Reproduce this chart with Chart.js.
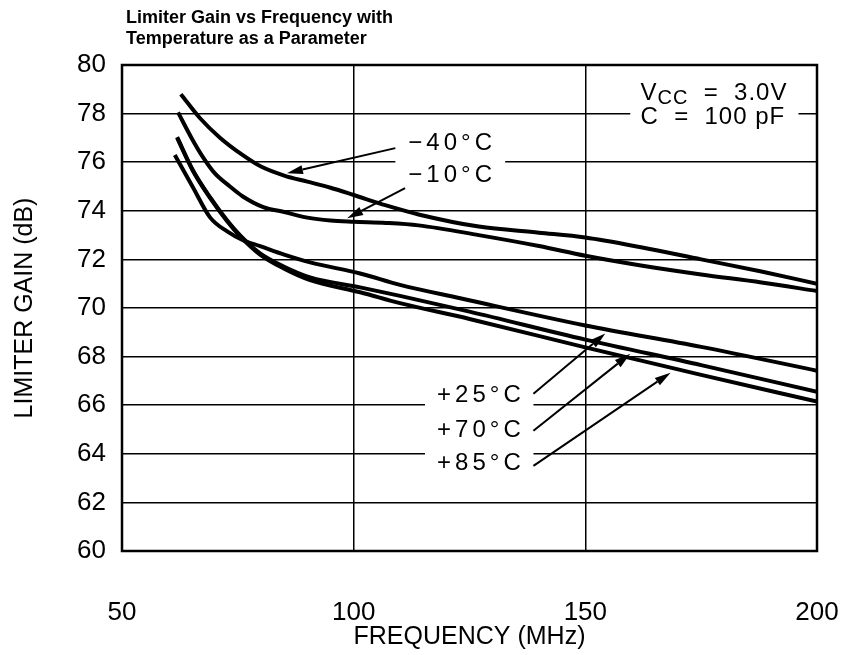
<!DOCTYPE html>
<html>
<head>
<meta charset="utf-8">
<script src="https://cdn.jsdelivr.net/npm/chart.js@4.4.1/dist/chart.umd.min.js"></script>
<style>
  html, body { margin: 0; padding: 0; background: #fff; }
</style>
</head>
<body>
<canvas id="chart" width="843" height="655"></canvas>
<script>
// Kurvendaten
const freqM40 = [62.7, 66.8, 71.2, 76, 80, 85, 90, 95, 100, 107, 114, 127, 140, 150, 162, 175, 188, 200];
const gainM40 = [78.8, 77.82, 77.0, 76.3, 75.82, 75.45, 75.2, 74.95, 74.65, 74.22, 73.85, 73.35, 73.1, 72.9, 72.5, 72.0, 71.5, 71.0];

const freqM10 = [62.1, 65, 67.5, 70, 73.3, 76, 80.5, 85, 90, 95, 100, 107, 114, 127, 140, 150, 162, 175, 188, 200];
const gainM10 = [78.05, 77.0, 76.2, 75.55, 75.0, 74.6, 74.15, 73.95, 73.72, 73.6, 73.55, 73.5, 73.4, 73.0, 72.55, 72.15, 71.75, 71.38, 71.05, 70.7];

const freqP25 = [61.4, 65.3, 69, 72.7, 76, 79.8, 85, 90.6, 101.4, 110, 123, 150, 175, 200];
const gainP25 = [76.3, 74.97, 73.73, 73.15, 72.8, 72.55, 72.2, 71.88, 71.42, 70.95, 70.4, 69.28, 68.4, 67.42];

const freqHot = [61.9, 65.3, 69, 72.7, 75.5, 79.8, 85, 90.6, 101.4, 110, 125, 150, 175, 200];
const gainP70 = [77.03, 75.67, 74.56, 73.6, 72.99, 72.25, 71.7, 71.26, 70.85, 70.5, 69.85, 68.7, 67.65, 66.55];
const gainP85 = [77.0, 75.65, 74.53, 73.57, 72.95, 72.2, 71.62, 71.15, 70.65, 70.2, 69.55, 68.38, 67.25, 66.15];

const xTicks = [50, 100, 150, 200];
const yTicks = [60, 62, 64, 66, 68, 70, 72, 74, 76, 78, 80];

const titleLines = ['Limiter Gain vs Frequency with', 'Temperature as a Parameter'];

// Beschriftungen und Pfeile (in Datenkoordinaten)
const tempLabels = [
  { text: '\u221240\u00B0C', x: 111.8, y: 76.78 },
  { text: '\u221210\u00B0C', x: 111.8, y: 75.46 },
  { text: '+25\u00B0C', x: 118.0, y: 66.39 },
  { text: '+70\u00B0C', x: 118.0, y: 64.95 },
  { text: '+85\u00B0C', x: 118.0, y: 63.59 }
];
const arrows = [
  { from: [109.0, 76.58], to: [85.6, 75.55] },
  { from: [111.1, 74.93], to: [98.6, 73.69] },
  { from: [138.8, 66.47], to: [154.3, 68.95] },
  { from: [138.8, 64.95], to: [159.7, 68.12] },
  { from: [138.8, 63.50], to: [168.4, 67.34] }
];
const masks = [
  { x0: 109.0, x1: 132.7, y0: 77.4, y1: 74.8 },
  { x0: 159.7, x1: 196.0, y0: 79.4, y1: 77.2 },
  { x0: 115.4, x1: 138.8, y0: 67.1, y1: 62.9 }
];

const FONT = '"Liberation Sans", Arial, sans-serif';

function pts(xs, ys) {
  return xs.map((x, i) => ({ x: x, y: ys[i] }));
}

function lineSet(label, xs, ys) {
  return {
    label: label,
    data: pts(xs, ys),
    borderColor: '#000',
    borderWidth: 4,
    pointRadius: 0,
    fill: false,
    cubicInterpolationMode: 'monotone'
  };
}

const extras = {
  id: 'extras',
  afterDatasetsDraw(chart) {
    const ctx = chart.ctx;
    const xs = chart.scales.x, ys = chart.scales.y;
    const a = chart.chartArea;
    ctx.save();
    // Lücken im Gitter hinter den Texten
    ctx.fillStyle = '#fff';
    masks.forEach(m => {
      const x0 = xs.getPixelForValue(m.x0), x1 = xs.getPixelForValue(m.x1);
      const y0 = ys.getPixelForValue(m.y0), y1 = ys.getPixelForValue(m.y1);
      ctx.fillRect(x0, y0, x1 - x0, y1 - y0);
    });
    // Rahmen
    ctx.strokeStyle = '#000';
    ctx.lineWidth = 2.5;
    ctx.strokeRect(a.left, a.top, a.right - a.left, a.bottom - a.top);

    // Temperatur-Beschriftungen
    ctx.fillStyle = '#000';
    ctx.font = '24px ' + FONT;
    ctx.textBaseline = 'middle';
    ctx.textAlign = 'left';
    ctx.letterSpacing = '4px';
    tempLabels.forEach(l => {
      ctx.fillText(l.text, xs.getPixelForValue(l.x), ys.getPixelForValue(l.y));
    });

    // V_CC / C Kasten
    const vx = xs.getPixelForValue(161.9);
    const vy = ys.getPixelForValue(78.85);
    ctx.letterSpacing = '1px';
    ctx.fillText('V', vx, vy);
    let w = ctx.measureText('V').width;
    ctx.font = '20px ' + FONT;
    ctx.fillText('CC', vx + w, vy + 6);
    w += ctx.measureText('CC').width;
    ctx.font = '24px ' + FONT;
    ctx.fillText('  =  3.0V', vx + w, vy);
    ctx.fillText('C  =  100 pF', vx, ys.getPixelForValue(77.86));
    ctx.letterSpacing = '0px';

    // Pfeile
    ctx.lineWidth = 2;
    arrows.forEach(ar => {
      const x0 = xs.getPixelForValue(ar.from[0]), y0 = ys.getPixelForValue(ar.from[1]);
      const x1 = xs.getPixelForValue(ar.to[0]), y1 = ys.getPixelForValue(ar.to[1]);
      const ang = Math.atan2(y1 - y0, x1 - x0);
      const len = 16, half = 4.5;
      const bx = x1 - len * Math.cos(ang), by = y1 - len * Math.sin(ang);
      ctx.beginPath();
      ctx.moveTo(x0, y0);
      ctx.lineTo(bx, by);
      ctx.stroke();
      ctx.beginPath();
      ctx.moveTo(x1, y1);
      ctx.lineTo(bx + half * Math.sin(ang), by - half * Math.cos(ang));
      ctx.lineTo(bx - half * Math.sin(ang), by + half * Math.cos(ang));
      ctx.closePath();
      ctx.fill();
    });

    // Titel
    ctx.font = 'bold 18px ' + FONT;
    ctx.textBaseline = 'alphabetic';
    ctx.fillText(titleLines[0], 126, 23);
    ctx.fillText(titleLines[1], 126, 44);
    ctx.restore();
  }
};

new Chart(document.getElementById('chart'), {
  type: 'line',
  data: {
    datasets: [
      lineSet('-40°C', freqM40, gainM40),
      lineSet('-10°C', freqM10, gainM10),
      lineSet('+25°C', freqP25, gainP25),
      lineSet('+70°C', freqHot, gainP70),
      lineSet('+85°C', freqHot, gainP85)
    ]
  },
  options: {
    responsive: false,
    animation: false,
    layout: { padding: { left: 0, right: 26, top: 65, bottom: 0 } },
    plugins: { legend: { display: false }, tooltip: { enabled: false }, title: { display: false } },
    scales: {
      x: {
        type: 'linear',
        min: 50, max: 200,
        afterBuildTicks: s => { s.ticks = xTicks.map(v => ({ value: v })); },
        afterFit: s => { s.height = 104; s.paddingLeft = 0; s.paddingRight = 0; },
        grid: { color: '#000', lineWidth: 1.5, drawTicks: false },
        border: { display: false },
        ticks: { color: '#000', font: { family: FONT, size: 26 }, padding: 46, maxRotation: 0 },
        title: { display: true, text: 'FREQUENCY (MHz)', color: '#000', font: { family: FONT, size: 25 }, padding: { top: 0, bottom: 3 } }
      },
      y: {
        min: 60, max: 80,
        afterBuildTicks: s => { s.ticks = yTicks.map(v => ({ value: v })); },
        afterFit: s => { s.width = 122; s.paddingTop = 0; s.paddingBottom = 0; },
        grid: { color: '#000', lineWidth: 1.5, drawTicks: false },
        border: { display: false },
        ticks: { color: '#000', font: { family: FONT, size: 26 }, padding: 16 },
        title: { display: true, text: 'LIMITER GAIN (dB)', color: '#000', font: { family: FONT, size: 25 }, padding: { top: 10, bottom: 0 } }
      }
    }
  },
  plugins: [extras]
});
</script>
</body>
</html>
